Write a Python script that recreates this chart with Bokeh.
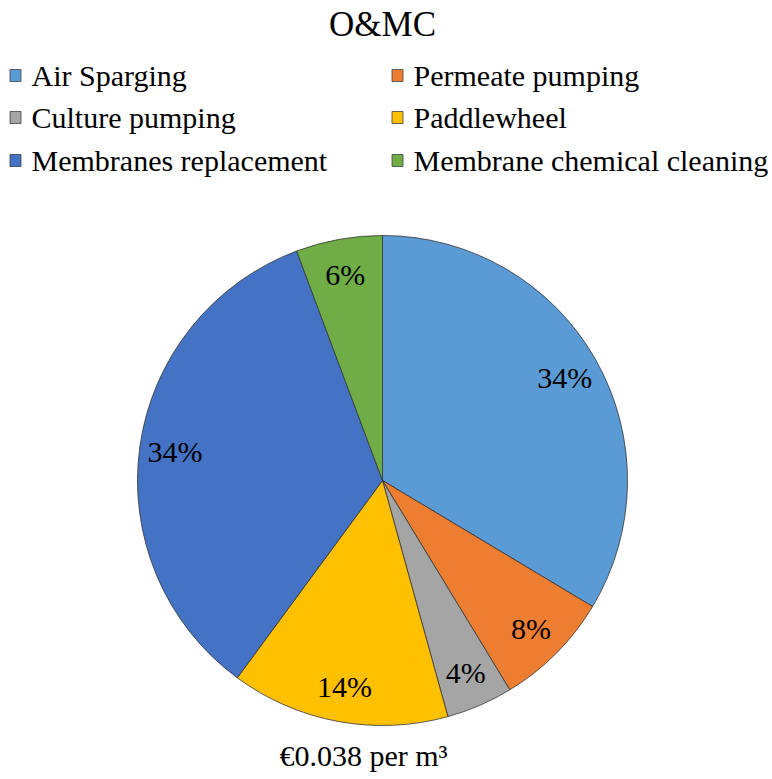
import math
from bokeh.plotting import figure
from bokeh.models import Range1d, ColumnDataSource
from bokeh.core.properties import value
from bokeh.embed import file_html
from bokeh.resources import INLINE

title = "O&MC"
categories = ["Air Sparging", "Permeate pumping", "Culture pumping",
              "Paddlewheel", "Membranes replacement", "Membrane chemical cleaning"]
shares = [33.6, 7.7, 4.4, 14.4, 34.2, 5.7]
colors = ["#5B9BD5", "#ED7D31", "#A5A5A5", "#FFC000", "#4472C4", "#70AD47"]
footer = "€0.038 per m³"

W, H = 770, 777
FONT = value("'Liberation Serif', 'Times New Roman', serif")

p = figure(width=W, height=H, output_backend="svg", toolbar_location=None,
           x_range=Range1d(0, W), y_range=Range1d(0, H),
           x_axis_type=None, y_axis_type=None, min_border=0,
           outline_line_color=None)
p.grid.visible = False

def py(y):
    return H - y

# pie
cx, cy, R = 382, py(480), 245
total = sum(shares)
starts, ends, lx, ly, labels = [], [], [], [], []
cum = 0.0
for v in shares:
    a0 = math.pi / 2 - cum / total * 2 * math.pi
    a1 = math.pi / 2 - (cum + v) / total * 2 * math.pi
    starts.append(a0)
    ends.append(a1)
    mid = (a0 + a1) / 2
    lx.append(cx + 0.855 * R * math.cos(mid))
    ly.append(cy + 0.855 * R * math.sin(mid))
    labels.append(f"{round(v / total * 100)}%")
    cum += v

src = ColumnDataSource(dict(start=starts, end=ends, color=colors,
                            lx=lx, ly=ly, label=labels))
p.wedge(x=cx, y=cy, radius=R, start_angle="start", end_angle="end",
        direction="clock", fill_color="color", line_color="#333333",
        line_width=0.8, source=src)
p.text(x="lx", y="ly", text="label", source=src, text_font=FONT,
       text_font_size="30px", text_align="center", text_baseline="middle",
       text_color="black")

# title
p.text(x=[382], y=[py(24)], text=[title], text_font=FONT, text_font_size="35px",
       text_align="center", text_baseline="middle", text_color="black")

# legend
leg_x = [15, 397]
leg_y = [75, 117, 160]
sx, sy, tx, ty = [], [], [], []
for i, c in enumerate(categories):
    col, row = i % 2, i // 2
    sx.append(leg_x[col])
    sy.append(py(leg_y[row]))
    tx.append(leg_x[col] + 16)
    ty.append(py(leg_y[row]))
lsrc = ColumnDataSource(dict(sx=sx, sy=sy, tx=tx, ty=ty, color=colors, name=categories))
p.rect(x="sx", y="sy", width=11, height=12, fill_color="color",
       line_color="#404040", line_width=0.8, source=lsrc)
p.text(x="tx", y="ty", text="name", source=lsrc, text_font=FONT,
       text_font_size="30px", text_align="left", text_baseline="middle",
       text_color="black")

# footer
p.text(x=[363], y=[py(755)], text=[footer], text_font=FONT, text_font_size="30px",
       text_align="center", text_baseline="middle", text_color="black")

open("out.html", "w").write(file_html(p, INLINE))
